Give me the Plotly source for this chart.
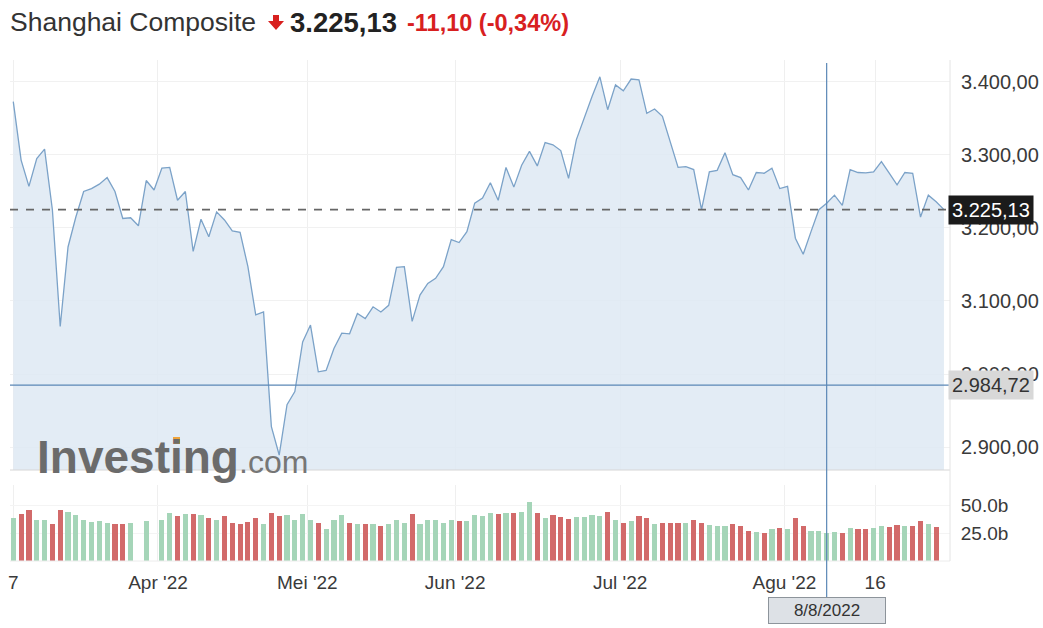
import plotly.graph_objects as go

# Shanghai Composite, one close per trading day (7 Mar 2022 .. 29 Aug 2022)
closes = [
    3373, 3293, 3257, 3295, 3308, 3225, 3065, 3174, 3215, 3250,
    3254, 3260, 3269, 3250, 3213, 3214, 3203, 3265, 3252, 3282,
    3283, 3238, 3250, 3168, 3212, 3188, 3222, 3211, 3196, 3194,
    3147, 3081, 3085, 2928, 2889, 2958, 2976, 3044, 3067, 3003,
    3005, 3035, 3056, 3055, 3083, 3076, 3092, 3085, 3094, 3146,
    3147, 3072, 3108, 3124, 3131, 3147, 3184, 3180, 3195, 3234,
    3241, 3262, 3238, 3283, 3256, 3286, 3305, 3285, 3317, 3314,
    3306, 3268, 3321, 3352, 3380, 3407, 3362, 3396, 3388, 3404,
    3403, 3357, 3363, 3353, 3318, 3283, 3284, 3280, 3225, 3277,
    3279, 3303, 3273, 3269, 3252, 3276, 3275, 3282, 3254, 3257,
    3186, 3164, 3195, 3225, 3234, 3245, 3231, 3280, 3276, 3275.5,
    3277, 3291, 3275, 3259, 3276, 3275, 3215, 3245, 3236, 3225.13,
]

# Session volume in billions (None = no bar)
volumes = [
    38.1, 41.7, 45.6, 36.7, 36.7, 32.8, 45.6, 44.1, 41.1, 36.7,
    35.2, 35.8, 34.3, 32.8, 32.8, 34.3, None, 36.1, None, 36.7,
    42.6, 40.2, 41.7, 41.7, 41.1, 38.1, 36.7, 40.2, 34.3, 32.8,
    35.2, 38.1, 32.8, 43.2, 40.2, 41.1, 36.7, 41.7, 36.7, 34.3,
    28.3, 36.7, 41.1, 34.3, 32.8, 32.8, 32.8, 31.3, 32.8, 36.7,
    34.3, 41.7, 32.8, 36.7, 36.7, 34.3, 36.7, 36.1, 36.1, 41.1,
    40.2, 42.6, 41.7, 42.6, 42.6, 44.1, 52.9, 43.2, 38.2, 41.2,
    39.1, 37.3, 39.7, 39.7, 41.2, 40.3, 44.1, 36.8, 34.4, 35.9,
    40.3, 38.2, 32.9, 34.4, 34.4, 34.4, 34.4, 36.8, 34.4, 32.3,
    30.9, 30.9, 32.9, 30.9, 26.5, 25.6, 25.0, 28.5, 29.4, 28.5,
    38.2, 31.7, 26.5, 27.0, 25.0, 25.9, 25.0, 29.4, 28.5, 28.5,
    29.7, 31.2, 30.6, 32.3, 31.2, 31.2, 35.6, 33.5, 30.0, None,
]

tick_labels = ["7", "Apr '22", "Mei '22", "Jun '22", "Jul '22", "Agu '22", "16"]
tick_pos = [0, 18.5, 37.6, 56.5, 77.6, 98.6, 110.2]
price_ticks = [2900, 3000, 3100, 3200, 3300, 3400]
volume_ticks = [25, 50]

index_name = "Shanghai Composite"
last_price = 3225.13
change = -11.10
change_pct = -0.34
cursor_price = 2984.72
cursor_index = 104
cursor_date = "8/8/2022"


def id_num(v, dec=2):
    """Indonesian number format: 3.225,13"""
    s = f"{v:,.{dec}f}"
    return s.replace(",", "#").replace(".", ",").replace("#", ".")


FONT = "Liberation Sans, Arial, sans-serif"
W, H = 1043, 628
L, R, T, B = 10, 93, 60, 67
PW, PH = W - L - R, H - T - B


def px(x):
    return (x - L) / PW


def py(y):
    return (H - B - y) / PH


days = list(range(len(closes)))
UP, DOWN = "#a5d5b8", "#d26a6a"
bar_colors = [UP if i == 0 or closes[i] >= closes[i - 1] else DOWN for i in days]

fig = go.Figure()
fig.add_trace(go.Scatter(
    x=days, y=closes, mode="lines",
    line=dict(color="#7ba2c8", width=1.3),
    fill="tozeroy", fillcolor="rgba(222,233,243,0.85)",
    yaxis="y", hoverinfo="skip",
))
fig.add_trace(go.Bar(
    x=days, y=volumes, marker=dict(color=bar_colors, line=dict(width=0)),
    width=0.66, yaxis="y2", hoverinfo="skip",
))

shapes = [
    # last price dashed reference
    dict(type="line", xref="x domain", x0=0, x1=1, yref="y", y0=last_price, y1=last_price,
         line=dict(color="#666666", width=1.6, dash="8px,8px")),
    # bottom edge of price pane
    dict(type="line", xref="x domain", x0=0, x1=1, yref="y domain", y0=0, y1=0,
         line=dict(color="#d6d6d6", width=1)),
    # baseline of volume pane
    dict(type="line", xref="x domain", x0=0, x1=1, yref="y2 domain", y0=0, y1=0,
         line=dict(color="#ececec", width=1)),
    # right axis border
    dict(type="line", xref="x domain", x0=1, x1=1, yref="paper", y0=0, y1=1,
         line=dict(color="#e4e4e4", width=1)),
    # crosshair
    dict(type="line", xref="x domain", x0=0, x1=1, yref="y", y0=cursor_price, y1=cursor_price,
         line=dict(color="#5b87b6", width=1.2)),
    dict(type="line", xref="x", x0=cursor_index, x1=cursor_index, yref="paper",
         y0=py(598), y1=py(63), line=dict(color="#5b87b6", width=1.2)),
    # red down arrow in the header
    dict(type="path", xref="paper", yref="paper", fillcolor="#d8201f", line=dict(width=0),
         path=(f"M {px(273)} {py(15)} L {px(279)} {py(15)} L {px(279)} {py(21)} "
               f"L {px(284)} {py(21)} L {px(276)} {py(30)} L {px(268)} {py(21)} "
               f"L {px(273)} {py(21)} Z")),
    # orange dot of the watermark
    dict(type="rect", xref="paper", yref="paper", x0=px(173), x1=px(180), y0=py(444), y1=py(437),
         fillcolor="#f0a43a", line=dict(width=0)),
]

ann = [
    dict(text=index_name, x=px(8), y=py(22), font=dict(size=26.5, color="#333333", family=FONT)),
    dict(text=f"<b>{id_num(last_price)}</b>", x=px(288), y=py(22),
         font=dict(size=27.5, color="#222222", family=FONT)),
    dict(text=f"<b>{id_num(change)} ({id_num(change_pct)}%)</b>", x=px(405), y=py(23),
         font=dict(size=23.5, color="#d8201f", family=FONT)),
    dict(text="<b>Investing</b>", x=px(35), y=py(457),
         font=dict(size=46, color="#6b6b6b", family=FONT)),
    dict(text=".com", x=px(237), y=py(462),
         font=dict(size=32, color="#767676", family=FONT)),
    dict(text=id_num(last_price), x=px(948), y=last_price, yref="y",
         bgcolor="#1b1b1b", borderpad=3, font=dict(size=20, color="#ffffff", family=FONT)),
    dict(text=id_num(cursor_price), x=px(948), y=cursor_price, yref="y",
         bgcolor="#d8d8d8", borderpad=3, font=dict(size=20, color="#333333", family=FONT)),
]
annotations = []
for a in ann:
    base = dict(xref="paper", yref="paper", xanchor="left", yanchor="middle",
                showarrow=False)
    base.update(a)
    annotations.append(base)

annotations.append(dict(
    text=cursor_date, xref="x", x=cursor_index, yref="paper", y=py(610),
    xanchor="center", yanchor="middle", showarrow=False,
    bgcolor="#dde1e6", bordercolor="#8d949b", borderwidth=1, borderpad=3,
    width=110, font=dict(size=17, color="#333333", family=FONT),
))

fig.update_layout(
    width=W, height=H, autosize=False,
    margin=dict(l=L, r=R, t=T, b=B, pad=0, autoexpand=False),
    paper_bgcolor="#ffffff", plot_bgcolor="#ffffff",
    showlegend=False, bargap=0,
    font=dict(family=FONT, color="#333333"),
    xaxis=dict(
        range=[-0.42, len(closes) - 0.23], anchor="y2", automargin=False,
        tickvals=tick_pos, ticktext=tick_labels,
        tickfont=dict(size=19, color="#3a3a3a"),
        ticks="outside", ticklen=4, tickcolor="rgba(0,0,0,0)",
        showgrid=True, gridcolor="#efefef", gridwidth=1,
        zeroline=False, showline=False,
    ),
    yaxis=dict(
        domain=[py(470), 1], range=[2868.5, 3430.1], side="right", anchor="x",
        automargin=False,
        tickvals=price_ticks, ticktext=[id_num(v) for v in price_ticks],
        tickfont=dict(size=20, color="#3a3a3a"),
        ticks="outside", ticklen=6, tickcolor="rgba(0,0,0,0)",
        showgrid=True, gridcolor="#f1f1f1", zeroline=False, showline=False,
    ),
    yaxis2=dict(
        domain=[0, py(485)], range=[0, 67.9], side="right", anchor="x",
        automargin=False,
        tickvals=volume_ticks, ticktext=[f"{v:.1f}b" for v in volume_ticks],
        tickfont=dict(size=19, color="#3a3a3a"),
        ticks="outside", ticklen=6, tickcolor="rgba(0,0,0,0)",
        showgrid=True, gridcolor="#f4f4f4", zeroline=False, showline=False,
    ),
    shapes=shapes,
    annotations=annotations,
)

fig.write_html("out.html", config={"displayModeBar": False})
